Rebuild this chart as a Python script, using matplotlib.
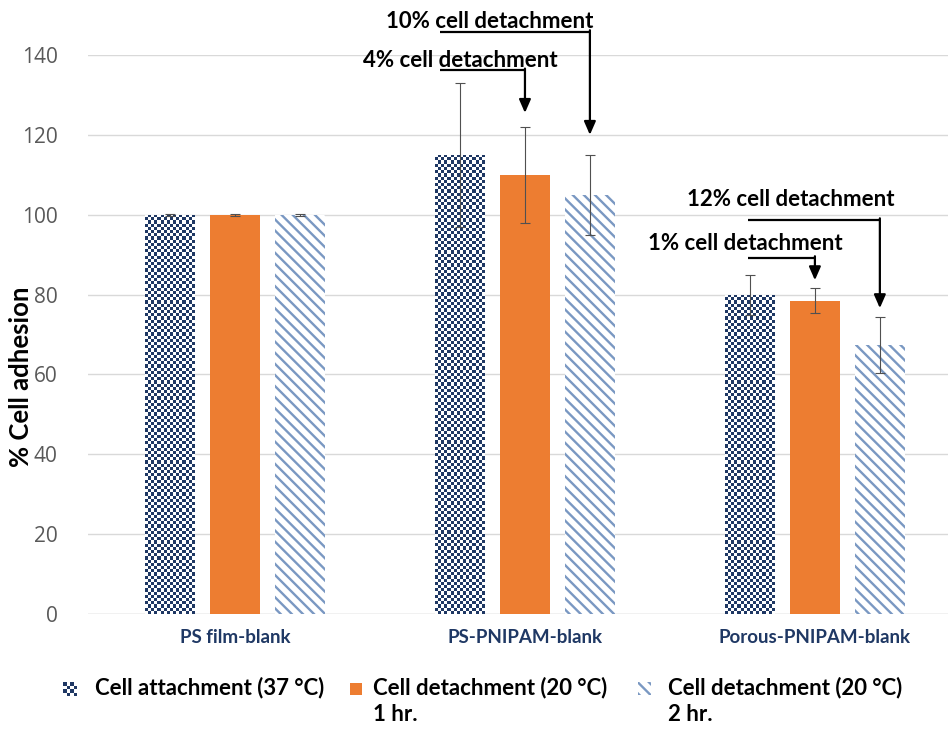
import numpy as np
import matplotlib
matplotlib.use("Agg")
import matplotlib.pyplot as plt
from matplotlib.patches import Rectangle
from matplotlib.colors import ListedColormap

# ---- data -------------------------------------------------------------
categories = ["PS film-blank", "PS-PNIPAM-blank", "Porous-PNIPAM-blank"]
series_labels = ["Cell attachment (37 °C)",
                 "Cell detachment (20 °C)\n1 hr.",
                 "Cell detachment (20 °C)\n2 hr."]
attach_37 = [100, 115, 80]
attach_37_err = [0.3, 18, 5]
detach_1h = [100, 110, 78.5]
detach_1h_err = [0.3, 12, 3.2]
detach_2h = [100, 105, 67.3]
detach_2h_err = [0.3, 10, 7]
yticks = [0, 20, 40, 60, 80, 100, 120, 140]

# detachment callouts: text, group index, series index, label pos, line level, arrow tip
callout_text = ["4% cell detachment", "10% cell detachment",
                "1% cell detachment", "12% cell detachment"]
callout_group = [1, 1, 2, 2]
callout_series = [1, 2, 1, 2]
callout_text_x = [0.776, 0.879, 1.759, 1.917]
callout_text_y = [138.7, 148.5, 92.9, 103.7]
callout_line_y = [136.2, 145.8, 89.2, 98.7]
callout_line_x0 = [0.707, 0.707, 1.769, 1.769]
callout_tip_y = [125.5, 120.0, 83.6, 76.6]

# ---- style ------------------------------------------------------------
NAVY = "#1F3864"
ORANGE = "#ED7D31"
STRIPE = "#7A98C2"
GRID = "#D9D9D9"
TICK = "#595959"
FONT = ["Lato", "DejaVu Sans"]

W, H = 950, 733
fig = plt.figure(figsize=(W / 100, H / 100), dpi=100)
ax = fig.add_axes([88 / W, 1 - 614 / H, (948 - 88) / W, (614 - 55) / H])

x = np.arange(len(categories))
bar_w = 0.172
offsets = [-0.224, 0.0, 0.224]
values = [attach_37, detach_1h, detach_2h]
errors = [attach_37_err, detach_1h_err, detach_2h_err]

ax.set_xlim(-0.507, 2.459)
ax.set_ylim(0, 140)

plt.rcParams["hatch.linewidth"] = 1.7

bars_all = []
for i, (vals, errs, off) in enumerate(zip(values, errors, offsets)):
    if i == 0:
        bars = ax.bar(x + off, vals, bar_w, color="white", linewidth=0, zorder=2)
    elif i == 1:
        bars = ax.bar(x + off, vals, bar_w, color=ORANGE, linewidth=0, zorder=2)
    else:
        bars = ax.bar(x + off, vals, bar_w, facecolor="white", edgecolor=STRIPE,
                      hatch="\\\\\\", linewidth=0, zorder=2)
    bars_all.append(bars)
    ax.errorbar(x + off, vals, yerr=errs, fmt="none", ecolor="#505050",
                elinewidth=0.8, capsize=3.5, capthick=0.8, zorder=4)

# checkerboard fill for the 37 °C bars, clipped to each bar
cmap = ListedColormap(["white", NAVY])
cell_px = 3.2
for b in bars_all[0]:
    x0, w, h = b.get_x(), b.get_width(), b.get_height()
    p0 = ax.transData.transform((x0, 0))
    p1 = ax.transData.transform((x0 + w, h))
    nx = max(1, int(round((p1[0] - p0[0]) / cell_px)))
    ny = max(1, int(round((p1[1] - p0[1]) / cell_px)))
    jj, ii = np.meshgrid(np.arange(nx), np.arange(ny))
    pattern = ((ii + jj) % 2).astype(float)
    im = ax.imshow(pattern, cmap=cmap, vmin=0, vmax=1, extent=(x0, x0 + w, 0, h),
                   origin="upper", aspect="auto", interpolation="nearest", zorder=3)
    im.set_clip_path(b)

ax.set_xlim(-0.507, 2.459)
ax.set_ylim(0, 140)

# axes styling
ax.set_yticks(yticks)
ax.yaxis.grid(True, color=GRID, linewidth=1)
ax.set_axisbelow(True)
for s in ax.spines.values():
    s.set_visible(False)
ax.axhline(0, color=GRID, linewidth=1, zorder=1)
ax.tick_params(axis="y", length=0, pad=22, labelsize=15, labelcolor=TICK)
ax.tick_params(axis="x", length=0, pad=11)
for lab in ax.get_yticklabels():
    lab.set_fontfamily(["Open Sans", "DejaVu Sans"])
ax.set_xticks(x)
ax.set_xticklabels(categories, fontsize=13.5, fontweight="bold", color=NAVY,
                   family=FONT)
ax.set_ylabel("% Cell adhesion", fontsize=18.5, fontweight="bold", family=FONT,
              labelpad=0, va="center")
ax.yaxis.set_label_coords(-(88 - 21) / (948 - 88), (614 - 377) / (614 - 55))

# callouts
for t, g, s, tx, ty, ly, lx0, tip in zip(callout_text, callout_group, callout_series,
                                         callout_text_x, callout_text_y, callout_line_y,
                                         callout_line_x0, callout_tip_y):
    bx = x[g] + offsets[s]
    ax.text(tx, ty, t, ha="center", va="center", fontsize=16, fontweight="bold",
            family=FONT, clip_on=False, zorder=6)
    ax.plot([lx0, bx], [ly, ly], color="black", linewidth=1.6, clip_on=False,
            solid_capstyle="butt", zorder=6)
    ax.annotate("", xy=(bx, tip), xytext=(bx, ly + 0.4),
                arrowprops=dict(arrowstyle="-|>,head_length=0.8,head_width=0.35",
                                color="black", linewidth=1.6, shrinkA=0, shrinkB=0),
                annotation_clip=False, zorder=6)

# legend drawn in figure pixels
def fig_px(px, py):
    return px / W, 1 - py / H

# checker swatch
cs = 3.5
for r in range(4):
    for c in range(4):
        if (r + c) % 2 == 0:
            fx, fy = fig_px(63 + c * cs, 682 + (r + 1) * cs)
            fig.add_artist(Rectangle((fx, fy), cs / W, cs / H, transform=fig.transFigure,
                                     facecolor=NAVY, edgecolor="none"))
# orange swatch
fx, fy = fig_px(350, 695)
fig.add_artist(Rectangle((fx, fy), 12 / W, 12 / H, transform=fig.transFigure,
                         facecolor=ORANGE, edgecolor="none"))
# stripe swatch
fx, fy = fig_px(638, 695)
fig.add_artist(Rectangle((fx, fy), 13 / W, 13 / H, transform=fig.transFigure,
                         facecolor="white", edgecolor=STRIPE, hatch="\\\\\\",
                         linewidth=0))

legend_text_x = [95, 373, 668]
for lx, lab in zip(legend_text_x, series_labels):
    fx, fy = fig_px(lx, 677)
    fig.text(fx, fy, lab, ha="left", va="top", fontsize=16, fontweight="bold",
             family=FONT, linespacing=1.3)

fig.savefig("out.png", dpi=100, facecolor="white")
